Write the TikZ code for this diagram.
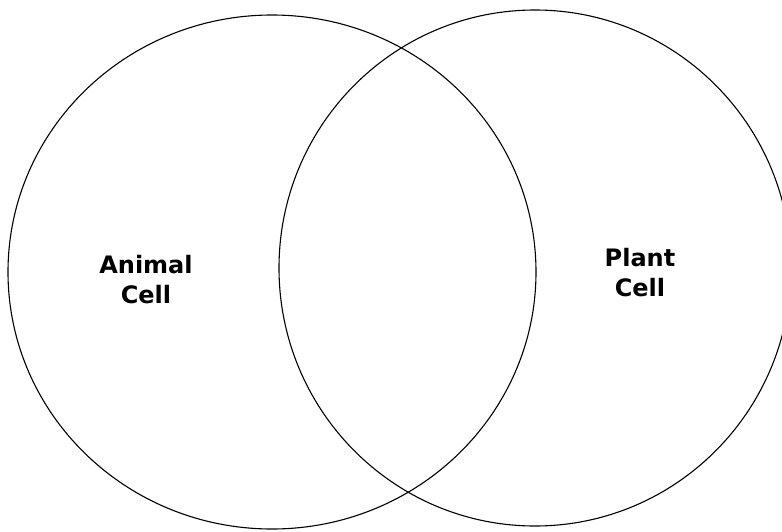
\documentclass[tikz,border=0pt]{standalone}
\usepackage{fontspec}
\setmainfont{DejaVu Sans}
\begin{document}
\begin{tikzpicture}[x=1pt,y=-1pt,line width=1.1pt,
   lbl/.style={font=\bfseries\fontsize{24}{30}\selectfont,align=center,inner sep=0pt}]
% page frame, right ring runs off the edge
\useasboundingbox (0,0) rectangle (782,531);
\clip (0,0) rectangle (782,531);
% the two rings
\draw (272,272) ellipse [x radius=264pt,y radius=257pt];
\draw (535,268) ellipse [x radius=256pt,y radius=258pt];
% labels
\node[lbl] (animal) at (146,280) {Animal\\Cell};
\node[lbl] (plant) at (640,273) {Plant\\Cell};
\end{tikzpicture}
\end{document}
